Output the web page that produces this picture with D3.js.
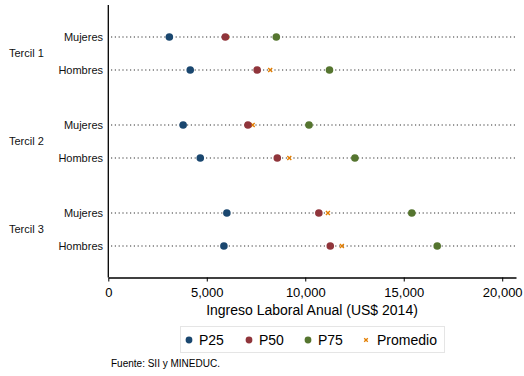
<!DOCTYPE html>
<html><head><meta charset="utf-8">
<script src="https://cdn.jsdelivr.net/npm/d3@7"></script>
<style>body{margin:0;background:#fff}svg{font-family:"Liberation Sans",Arial,sans-serif}</style>
</head><body><svg id="c" width="524" height="376"></svg>
<script>
const groups = ["Tercil 1","Tercil 2","Tercil 3"];
const sexes = ["Mujeres","Hombres"];
const rows = [["Tercil 1","Mujeres"],["Tercil 1","Hombres"],["Tercil 2","Mujeres"],["Tercil 2","Hombres"],["Tercil 3","Mujeres"],["Tercil 3","Hombres"]];
const p25 = [3100, 4160, 3800, 4670, 6020, 5870];
const p50 = [5940, 7560, 7090, 8580, 10690, 11270];
const p75 = [8530, 11230, 10190, 12520, 15410, 16700];
const promedio = [6030, 8220, 7330, 9190, 11150, 11860];
const xTicks = [0, 5000, 10000, 15000, 20000];
const seriesNames = ["P25","P50","P75","Promedio"];
const colors = ["#1a476f","#90353b","#55752f","#e37e00"];

const svg = d3.select("#c");
const x = d3.scaleLinear().domain([0, 20700]).range([108.3, 516]);
const rowIdx = d3.range(rows.length);
const yPos = i => { const g = Math.floor(i/2), s = i%2; return 37 + g*88 + s*33; };

// dotted lines
svg.append("g").selectAll("line").data(rowIdx).join("line")
  .attr("x1", 111).attr("x2", 516).attr("y1", yPos).attr("y2", yPos)
  .attr("stroke", "#333").attr("stroke-width", 1.2).attr("stroke-dasharray", "1.2,2.6");

// axes
svg.append("line").attr("x1",108.3).attr("x2",108.3).attr("y1",5).attr("y2",277.5).attr("stroke","#000").attr("stroke-width",1.3);
const xa = svg.append("g").attr("transform","translate(0,277.5)")
  .call(d3.axisBottom(x).tickValues(xTicks).tickFormat(d3.format(",")).tickSize(4).tickSizeOuter(0));
xa.select(".domain").attr("stroke-width",1.3);
xa.selectAll("text").attr("font-size",13).attr("fill","#000").attr("font-family","Liberation Sans, Arial, sans-serif").attr("dy","0.95em");
xa.selectAll(".tick line").attr("stroke-width",1);

// row labels
svg.append("g").selectAll("text").data(rowIdx).join("text")
  .attr("x",103).attr("y",yPos).attr("dy","0.35em").attr("text-anchor","end")
  .attr("font-size",11).attr("fill","#111").text(i => rows[i][1]);
svg.append("g").selectAll("text").data(groups).join("text")
  .attr("x",9).attr("y",(d,g)=> (yPos(2*g)+yPos(2*g+1))/2).attr("dy","0.35em")
  .attr("font-size",11).attr("fill","#111").text(d=>d);

// points (promedio drawn underneath the percentile dots)
const cross = (sel, sz) => sel.attr("d", `M${-sz},${-sz}L${sz},${sz}M${-sz},${sz}L${sz},${-sz}`);
const ptsG = svg.append("g");
ptsG.append("g").selectAll("path").data(rowIdx).join("path")
  .attr("transform", i=>`translate(${x(promedio[i])},${yPos(i)})`)
  .call(cross, 2).attr("stroke",colors[3]).attr("stroke-width",1.4).attr("fill","none");
[p25,p50,p75].forEach((arr,k)=>{
  ptsG.append("g").selectAll("circle").data(rowIdx).join("circle")
    .attr("cx", i=>x(arr[i])).attr("cy", yPos).attr("r",3.8).attr("fill",colors[k]);
});

// axis title
svg.append("text").attr("x",312).attr("y",315).attr("text-anchor","middle").attr("font-size",14).attr("fill","#000")
  .text("Ingreso Laboral Anual (US$ 2014)");

// legend
svg.append("rect").attr("x",180.5).attr("y",326.5).attr("width",264).attr("height",26).attr("fill","#fff").attr("stroke","#e5e5e5");
const legX = [189, 249, 308, 366];
const lg = svg.append("g").selectAll("g").data(seriesNames).join("g").attr("transform",(d,i)=>`translate(${legX[i]},340)`);
lg.each(function(d,i){
  const g = d3.select(this);
  if (i<3) g.append("circle").attr("r",3.4).attr("fill",colors[i]);
  else g.append("path").call(cross,1.8).attr("stroke",colors[3]).attr("stroke-width",1.3);
  g.append("text").attr("x", i<3 ? 10 : 11).attr("dy","0.35em").attr("font-size",14).attr("fill","#000").text(d);
});

// source
svg.append("text").attr("x",111).attr("y",367).attr("font-size",10).attr("fill","#000").text("Fuente: SII y MINEDUC.");
</script></body></html>
